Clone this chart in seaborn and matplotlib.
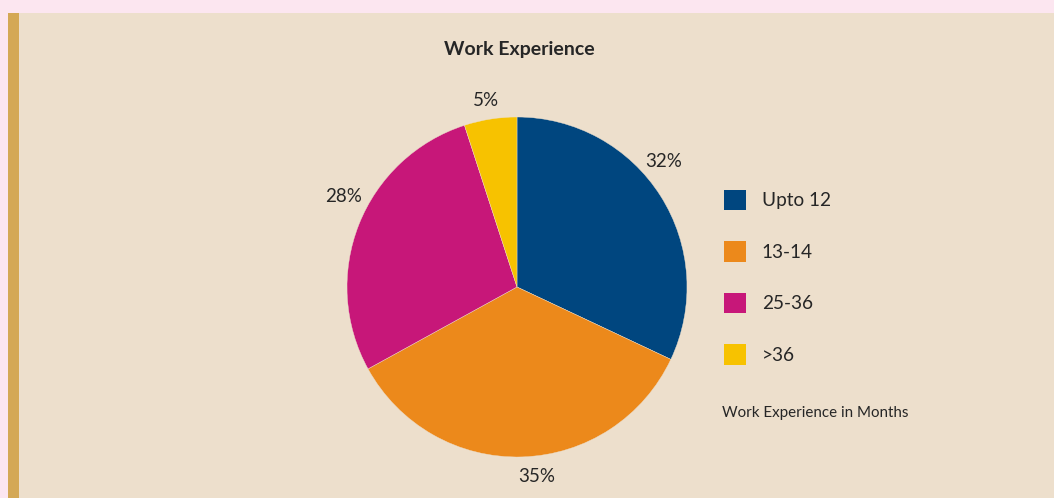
import numpy as np
import matplotlib
matplotlib.use("Agg")
import matplotlib.pyplot as plt
from matplotlib.patches import Patch, Rectangle
import seaborn as sns

# Work experience breakdown (share of respondents, %)
categories = ["Upto 12", "13-14", "25-36", ">36"]
shares = [32, 35, 28, 5]
colors = ["#00467F", "#EC891B", "#C71779", "#F7C200"]

title_text = "Work Experience"
note_text = "Work Experience in Months"

sns.set_theme(style="white")
plt.rcParams["font.family"] = ["Lato", "DejaVu Sans"]

W, H = 1054, 498
fig = plt.figure(figsize=(W / 100, H / 100), dpi=100)
fig.patch.set_facecolor("#FCE6F0")

# Panel background and the gold accent stripe on the left
fig.patches.append(Rectangle((19 / W, 0), 1 - 19 / W, 1 - 13 / H,
                             transform=fig.transFigure, facecolor="#EDDFCC",
                             edgecolor="none", zorder=-10))
fig.patches.append(Rectangle((8 / W, 0), 11 / W, 1 - 13 / H,
                             transform=fig.transFigure, facecolor="#D4A855",
                             edgecolor="none", zorder=-10))

# Pie axes: centre (517, 287) px, radius 170 px
cx, cy, r = 517, 287, 170
ax = fig.add_axes([(cx - r) / W, (H - cy - r) / H, 2 * r / W, 2 * r / H])
ax.set_zorder(2)
ax.set_facecolor("none")
wedges, texts, autotexts = ax.pie(
    shares, colors=colors, startangle=90, counterclock=False,
    autopct=lambda p: f"{p:.0f}%", pctdistance=1.13,
    wedgeprops=dict(linewidth=0.3, edgecolor="#EDDFCC"),
    textprops=dict(fontsize=13.5, color="#262626"))

# Best-fit placement of the percentage labels around the rim
label_shift_deg = [8, 4, -6, 0.5]
label_radius = [1.135, 1.12, 1.15, 1.11]
for w, t, dth, rad in zip(wedges, autotexts, label_shift_deg, label_radius):
    mid = np.deg2rad((w.theta1 + w.theta2) / 2 + dth)
    t.set_position((rad * np.cos(mid), rad * np.sin(mid)))
    t.set_ha("center")
    t.set_va("center")

ax.set_xlim(-1, 1)
ax.set_ylim(-1, 1)
ax.set_aspect("equal")
ax.axis("off")

fig.text(519 / W, 1 - 49 / H, title_text, ha="center", va="center",
         fontsize=14, fontweight="bold", color="#262626")

handles = [Patch(facecolor=c, edgecolor="none") for c in colors]
leg = fig.legend(handles, categories, loc="upper left",
                 bbox_to_anchor=(714 / W, 1 - 180 / H),
                 frameon=False, fontsize=13.7, handlelength=1.16,
                 handleheight=1.3, handletextpad=0.85, labelspacing=1.62,
                 borderpad=0.0)
for t in leg.get_texts():
    t.set_color("#262626")

fig.text(722 / W, 1 - 413 / H, note_text, ha="left", va="center",
         fontsize=10.9, color="#262626")

fig.savefig("out.png", dpi=100, facecolor=fig.get_facecolor())
